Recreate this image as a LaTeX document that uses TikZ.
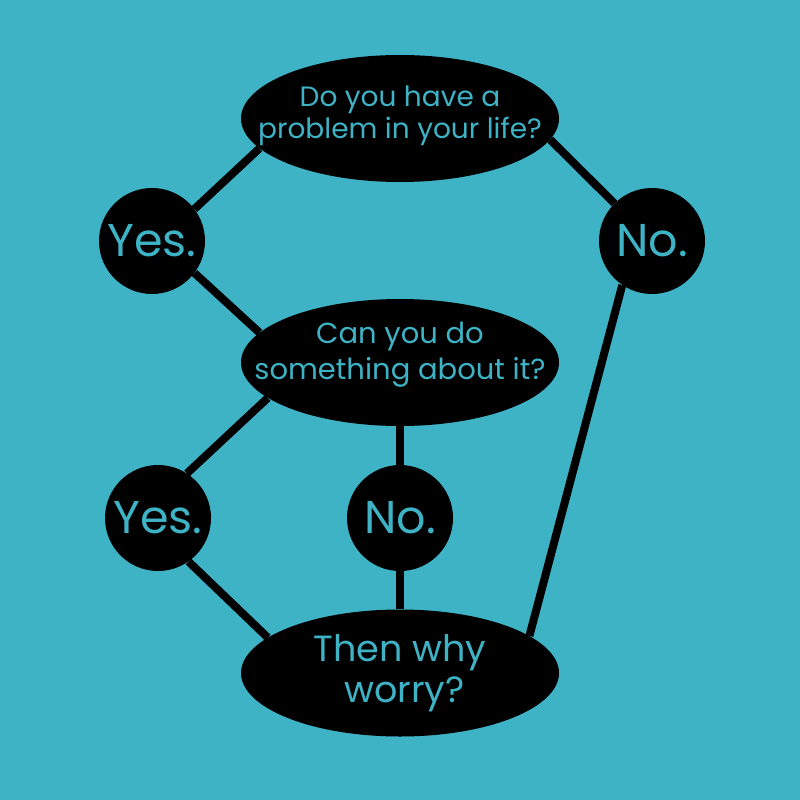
\documentclass[tikz,border=0pt]{standalone}
\usepackage{fontspec}
\setmainfont{Poppins}
\usetikzlibrary{shapes.geometric}
\definecolor{bg}{HTML}{3EB3C6}
\tikzset{
 blob/.style={ellipse,fill=black,inner sep=0pt,minimum width=318pt,minimum height=127pt},
 disc/.style={circle,fill=black,inner sep=0pt,minimum size=106pt,text=bg,font=\fontsize{46}{46}\selectfont},
 link/.style={line width=8pt,black},
 words/.style={text=bg,align=center,inner sep=0pt}
}
\begin{document}
\begin{tikzpicture}[x=1pt,y=-1pt]
\useasboundingbox[fill=bg] (0,0) rectangle (800,800);
\node[blob] (q1) at (400,118.5) {};
\node[blob] (q2) at (400,362.5) {};
\node[blob] (end) at (400,673) {};
\node[disc] (y1) at (152,241) {Yes.};
\node[disc] (n1) at (652,241) {No.};
\node[disc] (y2) at (158,518) {Yes.};
\node[disc] (n2) at (400,518) {No.};
\node[words,font=\fontsize{28}{32}\selectfont] (q1t) at (400,116) {Do you have a\\problem in your life?};
\node[words,font=\fontsize{29}{36}\selectfont] (q2t) at (400,355) {Can you do\\something about it?};
\node[words,font=\fontsize{36.5}{41}\selectfont] (endt) at (400,673) {Then why\\\hspace*{9pt}worry?};
\draw[link] (y1.37) -- (q1.192);
\draw[link] (y1.323) -- (q2.168);
\draw[link] (n1.135) -- (q1.352);
\draw[link] (y2.57) -- (q2.195);
\draw[link] (n2) -- (q2);
\draw[link] (y2.305) -- (end.165);
\draw[link] (n2) -- (end);
\draw[link] (n1.236) -- (end.16);
\end{tikzpicture}
\end{document}
